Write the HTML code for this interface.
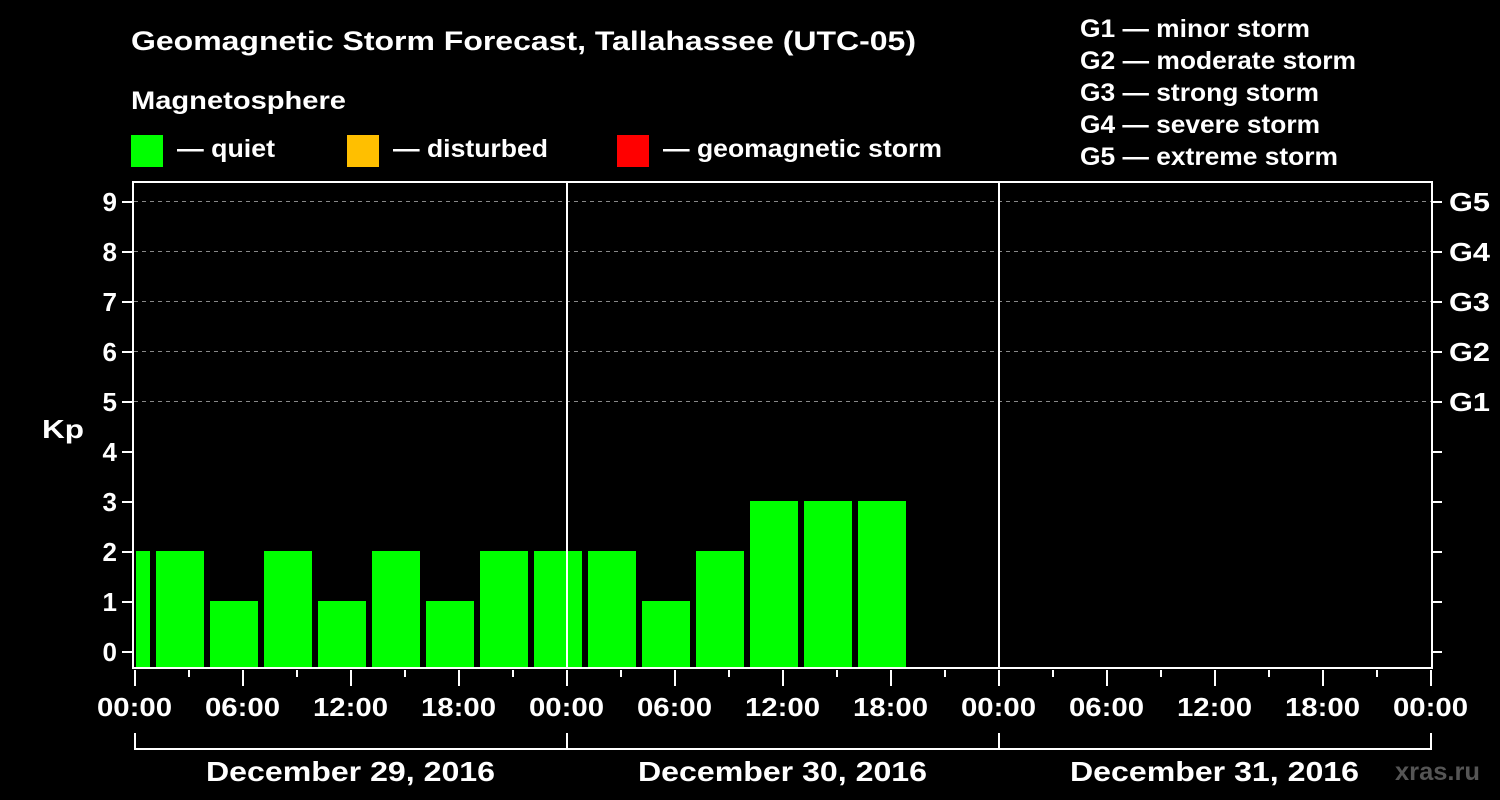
<!DOCTYPE html>
<html><head><style>html,body{margin:0;padding:0;background:#000}svg{display:block}</style></head>
<body>
<svg width="1500" height="800" xmlns="http://www.w3.org/2000/svg" font-family="Liberation Sans, Arial, sans-serif" font-weight="bold" fill="#fff">
<rect width="1500" height="800" fill="#000"/>
<text x="131" y="50" font-size="27" textLength="785" lengthAdjust="spacingAndGlyphs">Geomagnetic Storm Forecast, Tallahassee (UTC-05)</text>
<text x="131" y="109" font-size="25" textLength="215" lengthAdjust="spacingAndGlyphs">Magnetosphere</text>
<rect x="131" y="135" width="32" height="32" fill="#00ff00"/>
<text x="177" y="157" font-size="25" textLength="98" lengthAdjust="spacingAndGlyphs">— quiet</text>
<rect x="347" y="135" width="32" height="32" fill="#ffbf00"/>
<text x="393" y="157" font-size="25" textLength="155" lengthAdjust="spacingAndGlyphs">— disturbed</text>
<rect x="617" y="135" width="32" height="32" fill="#ff0000"/>
<text x="663" y="157" font-size="25" textLength="279" lengthAdjust="spacingAndGlyphs">— geomagnetic storm</text>
<g font-size="25" lengthAdjust="spacingAndGlyphs">
<text x="1080" y="37" textLength="230" lengthAdjust="spacingAndGlyphs">G1 — minor storm</text>
<text x="1080" y="69" textLength="276" lengthAdjust="spacingAndGlyphs">G2 — moderate storm</text>
<text x="1080" y="101" textLength="239" lengthAdjust="spacingAndGlyphs">G3 — strong storm</text>
<text x="1080" y="133" textLength="240" lengthAdjust="spacingAndGlyphs">G4 — severe storm</text>
<text x="1080" y="165" textLength="258" lengthAdjust="spacingAndGlyphs">G5 — extreme storm</text>
</g>
<g stroke="#888" stroke-width="1" stroke-dasharray="4,4">
<line x1="134" y1="201.5" x2="1432" y2="201.5"/>
<line x1="134" y1="251.5" x2="1432" y2="251.5"/>
<line x1="134" y1="301.5" x2="1432" y2="301.5"/>
<line x1="134" y1="351.5" x2="1432" y2="351.5"/>
<line x1="134" y1="401.5" x2="1432" y2="401.5"/>
</g>
<g fill="#00ff00">
<rect x="136" y="551" width="14" height="117"/>
<rect x="156" y="551" width="48" height="117"/>
<rect x="210" y="601" width="48" height="67"/>
<rect x="264" y="551" width="48" height="117"/>
<rect x="318" y="601" width="48" height="67"/>
<rect x="372" y="551" width="48" height="117"/>
<rect x="426" y="601" width="48" height="67"/>
<rect x="480" y="551" width="48" height="117"/>
<rect x="534" y="551" width="48" height="117"/>
<rect x="588" y="551" width="48" height="117"/>
<rect x="642" y="601" width="48" height="67"/>
<rect x="696" y="551" width="48" height="117"/>
<rect x="750" y="501" width="48" height="167"/>
<rect x="804" y="501" width="48" height="167"/>
<rect x="858" y="501" width="48" height="167"/>
</g>
<g stroke="#fff" stroke-width="2" fill="none">
<rect x="133" y="182" width="1299" height="486"/>
<line x1="567" y1="182" x2="567" y2="668"/>
<line x1="999" y1="182" x2="999" y2="668"/>
<path d="M122 652H133M122 602H133M122 552H133M122 502H133M122 452H133M122 402H133M122 352H133M122 302H133M122 252H133M122 202H133"/>
<path d="M1432 652H1442M1432 602H1442M1432 552H1442M1432 502H1442M1432 452H1442M1432 402H1442M1432 352H1442M1432 302H1442M1432 252H1442M1432 202H1442"/>
<path d="M135 670V686M189 670V677M243 670V686M297 670V677M351 670V686M405 670V677M459 670V686M513 670V677M567 670V686M621 670V677M675 670V686M729 670V677M783 670V686M837 670V677M891 670V686M945 670V677M999 670V686M1053 670V677M1107 670V686M1161 670V677M1215 670V686M1269 670V677M1323 670V686M1377 670V677M1431 670V686"/>
<path d="M135 733V749H1431V733M567 733V749M999 733V749"/>
</g>
<g font-size="26" text-anchor="end">
<text x="117" y="661">0</text><text x="117" y="611">1</text><text x="117" y="561">2</text><text x="117" y="511">3</text><text x="117" y="461">4</text><text x="117" y="411">5</text><text x="117" y="361">6</text><text x="117" y="311">7</text><text x="117" y="261">8</text><text x="117" y="211">9</text>
</g>
<text x="42" y="438" font-size="26" textLength="42" lengthAdjust="spacingAndGlyphs">Kp</text>
<g font-size="26">
<text x="1449" y="211" textLength="41" lengthAdjust="spacingAndGlyphs">G5</text><text x="1449" y="261" textLength="41" lengthAdjust="spacingAndGlyphs">G4</text><text x="1449" y="311" textLength="41" lengthAdjust="spacingAndGlyphs">G3</text><text x="1449" y="361" textLength="41" lengthAdjust="spacingAndGlyphs">G2</text><text x="1449" y="411" textLength="41" lengthAdjust="spacingAndGlyphs">G1</text>
</g>
<g font-size="26">
<text x="97" y="716" textLength="75" lengthAdjust="spacingAndGlyphs">00:00</text>
<text x="205" y="716" textLength="75" lengthAdjust="spacingAndGlyphs">06:00</text>
<text x="313" y="716" textLength="75" lengthAdjust="spacingAndGlyphs">12:00</text>
<text x="421" y="716" textLength="75" lengthAdjust="spacingAndGlyphs">18:00</text>
<text x="529" y="716" textLength="75" lengthAdjust="spacingAndGlyphs">00:00</text>
<text x="637" y="716" textLength="75" lengthAdjust="spacingAndGlyphs">06:00</text>
<text x="745" y="716" textLength="75" lengthAdjust="spacingAndGlyphs">12:00</text>
<text x="853" y="716" textLength="75" lengthAdjust="spacingAndGlyphs">18:00</text>
<text x="961" y="716" textLength="75" lengthAdjust="spacingAndGlyphs">00:00</text>
<text x="1069" y="716" textLength="75" lengthAdjust="spacingAndGlyphs">06:00</text>
<text x="1177" y="716" textLength="75" lengthAdjust="spacingAndGlyphs">12:00</text>
<text x="1285" y="716" textLength="75" lengthAdjust="spacingAndGlyphs">18:00</text>
<text x="1393" y="716" textLength="75" lengthAdjust="spacingAndGlyphs">00:00</text>
</g>
<g font-size="28">
<text x="206" y="781" textLength="289" lengthAdjust="spacingAndGlyphs">December 29, 2016</text>
<text x="638" y="781" textLength="289" lengthAdjust="spacingAndGlyphs">December 30, 2016</text>
<text x="1070" y="781" textLength="289" lengthAdjust="spacingAndGlyphs">December 31, 2016</text>
</g>
<text x="1395" y="780" font-size="25" fill="#555" textLength="85" lengthAdjust="spacingAndGlyphs">xras.ru</text>
</svg>
</body></html>
